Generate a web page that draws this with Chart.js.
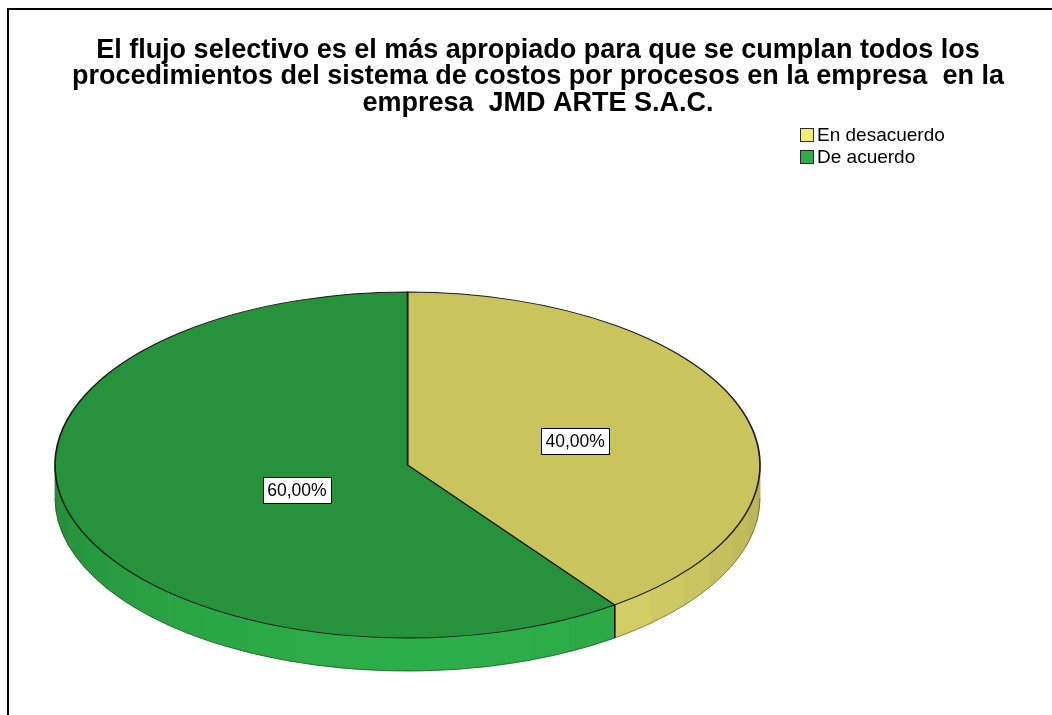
<!DOCTYPE html>
<html>
<head>
<meta charset="utf-8">
<script src="https://cdn.jsdelivr.net/npm/chart.js@4.4.1/dist/chart.umd.min.js"></script>
<style>
  html, body { margin: 0; padding: 0; background: #ffffff; }
  canvas { display: block; }
</style>
</head>
<body>
<canvas id="chart" width="1052" height="715"></canvas>
<script>
// Survey answers and their share of respondents (%)
const categories = ['En desacuerdo', 'De acuerdo'];
const percentages = [40, 60];

const titleLines = [
  'El flujo selectivo es el más apropiado para que se cumplan todos los',
  'procedimientos del sistema de costos por procesos en la empresa  en la',
  'empresa  JMD ARTE S.A.C.'
];

// Slice colours: top face, side wall (rgb) and legend swatch
const topColors = ['#c9c55c', '#26923c'];
const sideColors = [[218, 213, 104], [44, 174, 72]];
const legendColors = ['#f4ec70', '#30ad48'];

const FONT = "'Liberation Sans', Arial, sans-serif";

// Tilted-disc geometry the flat pie is projected onto
const disc = { cx: 407.5, cy: 465, rx: 352.5, ry: 173, depth: 33 };

function arcProps(el) {
  return el.getProps(['x', 'y', 'startAngle', 'endAngle', 'outerRadius'], true);
}

function fmtPct(v) {
  return v.toFixed(2).replace('.', ',') + '%';
}

// Draw the visible front wall of one slice as a row of shaded facets
function drawWall(ctx, a0, a1, rgb) {
  const { cx, cy, rx, ry, depth } = disc;
  const n = Math.max(1, Math.ceil((a1 - a0) / (Math.PI / 22)));
  for (let k = 0; k < n; k++) {
    const t0 = a0 + (a1 - a0) * k / n;
    const t1 = a0 + (a1 - a0) * (k + 1) / n;
    const tm = (t0 + t1) / 2;
    const shade = 0.8 + 0.2 * Math.cos(tm - 1.5);
    const c = 'rgb(' + rgb.map(v => Math.round(v * shade)).join(',') + ')';
    ctx.beginPath();
    ctx.ellipse(cx, cy, rx, ry, 0, t0, t1, false);
    ctx.ellipse(cx, cy + depth, rx, ry, 0, t1, t0, true);
    ctx.closePath();
    ctx.fillStyle = c;
    ctx.strokeStyle = c;
    ctx.lineWidth = 0.8;
    ctx.fill();
    ctx.stroke();
  }
  // soft lower rim
  ctx.beginPath();
  ctx.ellipse(cx, cy + depth, rx, ry, 0, a0, a1, false);
  ctx.strokeStyle = 'rgba(30,40,20,0.45)';
  ctx.lineWidth = 1;
  ctx.stroke();
}

// Parts of [a0, a1] that face the viewer (lower half of the ellipse)
function frontRanges(a0, a1) {
  const out = [];
  for (let k = -1; k <= 1; k++) {
    const lo = Math.max(a0, k * 2 * Math.PI);
    const hi = Math.min(a1, k * 2 * Math.PI + Math.PI);
    if (hi > lo) out.push([lo - k * 2 * Math.PI, hi - k * 2 * Math.PI]);
  }
  return out;
}

const pie3d = {
  id: 'pie3d',
  beforeDraw(chart) {
    const ctx = chart.ctx;
    ctx.save();
    ctx.fillStyle = '#ffffff';
    ctx.fillRect(0, 0, chart.width, chart.height);
    // frame
    ctx.strokeStyle = '#000000';
    ctx.lineWidth = 2;
    ctx.beginPath();
    ctx.moveTo(chart.width, 9);
    ctx.lineTo(8, 9);
    ctx.lineTo(8, chart.height);
    ctx.stroke();
    ctx.restore();
  },
  beforeDatasetsDraw(chart) {
    const ctx = chart.ctx;
    const arcs = chart.getDatasetMeta(0).data;
    ctx.save();
    arcs.forEach((el, i) => {
      const p = arcProps(el);
      frontRanges(p.startAngle, p.endAngle).forEach(r => drawWall(ctx, r[0], r[1], sideColors[i]));
    });
    ctx.restore();
    // project the round pie onto the tilted disc
    const p0 = arcProps(arcs[0]);
    ctx.save();
    ctx.translate(disc.cx, disc.cy);
    ctx.scale(disc.rx / p0.outerRadius, disc.ry / p0.outerRadius);
    ctx.translate(-p0.x, -p0.y);
  },
  afterDatasetsDraw(chart, args, opts) {
    const ctx = chart.ctx;
    ctx.restore();
    const arcs = chart.getDatasetMeta(0).data;
    const { cx, cy, rx, ry, depth } = disc;

    // seams between slices on the front wall
    ctx.save();
    ctx.strokeStyle = '#111111';
    ctx.lineWidth = 1.3;
    arcs.forEach(el => {
      const p = arcProps(el);
      [p.startAngle, p.endAngle].forEach(a => {
        const t = ((a % (2 * Math.PI)) + 2 * Math.PI) % (2 * Math.PI);
        if (t > 0.01 && t < Math.PI - 0.01) {
          const x = cx + rx * Math.cos(t), y = cy + ry * Math.sin(t);
          ctx.beginPath();
          ctx.moveTo(x, y);
          ctx.lineTo(x, y + depth);
          ctx.stroke();
        }
      });
    });
    ctx.restore();

    // value labels
    ctx.save();
    ctx.font = '17.5px ' + FONT;
    ctx.textAlign = 'center';
    ctx.textBaseline = 'middle';
    arcs.forEach((el, i) => {
      const p = arcProps(el);
      const mid = (p.startAngle + p.endAngle) / 2;
      const f = opts.labelAt[i];
      const x = cx + rx * f.fx * Math.cos(mid);
      const y = cy + ry * f.fy * Math.sin(mid);
      const txt = fmtPct(chart.data.datasets[0].data[i]);
      const w = ctx.measureText(txt).width + 9;
      const h = 26;
      ctx.fillStyle = '#ffffff';
      ctx.fillRect(Math.round(x - w / 2) + 0.5, Math.round(y - h / 2) + 0.5, Math.round(w), h);
      ctx.strokeStyle = '#000000';
      ctx.lineWidth = 1;
      ctx.strokeRect(Math.round(x - w / 2) + 0.5, Math.round(y - h / 2) + 0.5, Math.round(w), h);
      ctx.fillStyle = '#000000';
      ctx.fillText(txt, x, y + 1);
    });
    ctx.restore();
  },
  afterDraw(chart, args, opts) {
    // legend in the upper right
    const ctx = chart.ctx;
    ctx.save();
    ctx.font = '19px ' + FONT;
    ctx.textBaseline = 'middle';
    ctx.textAlign = 'left';
    chart.data.labels.forEach((lab, i) => {
      const y = opts.legend.y + i * opts.legend.step;
      ctx.fillStyle = legendColors[i];
      ctx.fillRect(opts.legend.x + 0.5, y - 6.5, 13, 13);
      ctx.strokeStyle = '#2a2a2a';
      ctx.lineWidth = 1;
      ctx.strokeRect(opts.legend.x + 0.5, y - 6.5, 13, 13);
      ctx.fillStyle = '#000000';
      ctx.fillText(lab, opts.legend.x + 17, y + 1);
    });
    ctx.restore();
  }
};

new Chart(document.getElementById('chart'), {
  type: 'pie',
  data: {
    labels: categories,
    datasets: [{
      data: percentages,
      backgroundColor: topColors,
      borderColor: '#1a1a1a',
      borderWidth: 1.4
    }]
  },
  plugins: [pie3d],
  options: {
    responsive: false,
    animation: false,
    events: [],
    layout: { padding: { left: 24, right: 0, top: 0, bottom: 10 } },
    plugins: {
      legend: { display: false },
      tooltip: { enabled: false },
      title: {
        display: true,
        text: titleLines,
        color: '#000000',
        font: { family: FONT, size: 27, weight: 'bold', lineHeight: 0.98 },
        padding: { top: 37, bottom: 10 }
      },
      pie3d: {
        labelAt: [{ fx: 0.50, fy: 0.45 }, { fx: 0.33, fy: 0.47 }],
        legend: { x: 800, y: 135, step: 22 }
      }
    }
  }
});
</script>
</body>
</html>
